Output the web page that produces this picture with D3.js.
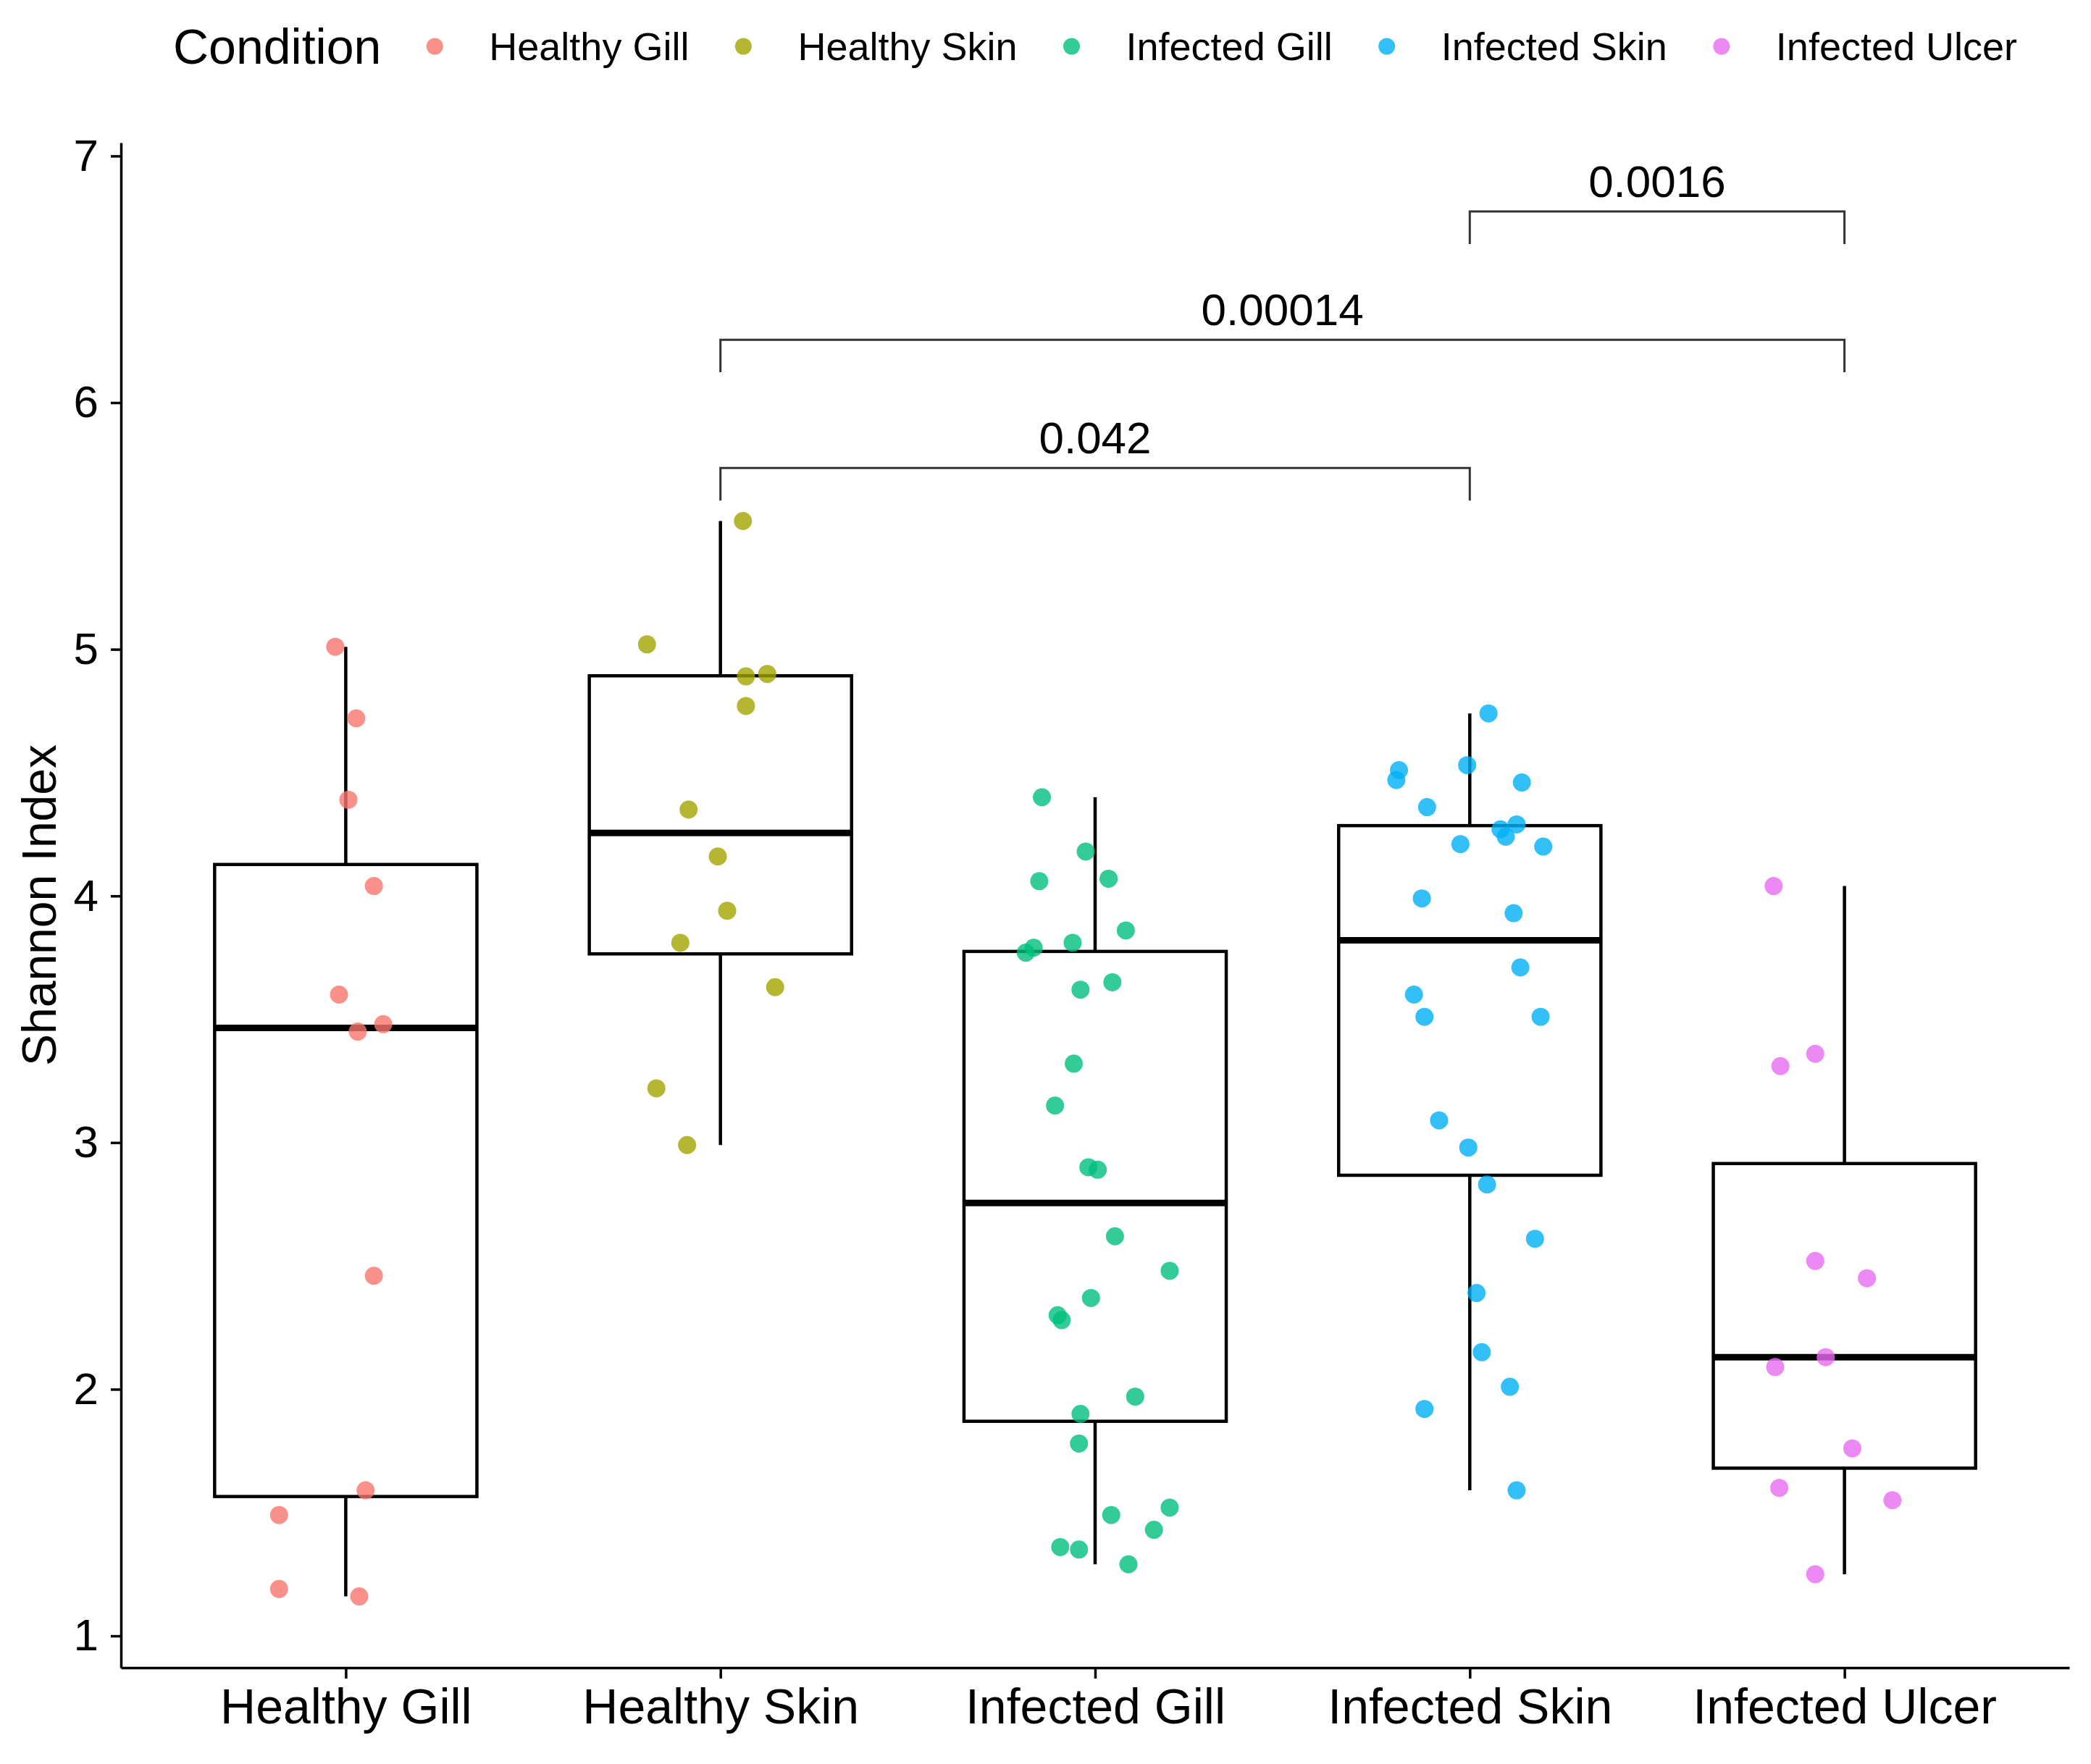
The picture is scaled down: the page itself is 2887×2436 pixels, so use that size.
<!DOCTYPE html>
<html lang="en">
<head>
    <meta charset="utf-8"/>
    <title>Shannon Index by Condition</title>
    <style>
        body { margin: 0; background: #fff; }
        svg { display: block; font-family: "Liberation Sans", Arial, Helvetica, sans-serif; }
        .axis path, .axis line { stroke: #000; stroke-width: 3.5px; }
        .axis text { fill: #000; }
        .box { fill: #fff; stroke: #000; stroke-width: 4.5px; }
        .whisker { stroke: #000; stroke-width: 4.5px; }
        .median { stroke: #000; stroke-width: 9px; }
        .bracket { fill: none; stroke: #333; stroke-width: 3px; }
    </style>
</head>
<body>
<div class="viz"></div>
<script src="https://cdnjs.cloudflare.com/ajax/libs/d3/7.8.5/d3.min.js"></script>
<script>
    // categories + colours (ggplot default hue palette)
    var categories = ["Healthy Gill", "Healthy Skin", "Infected Gill", "Infected Skin", "Infected Ulcer"];
    var colors = ["#F8766D", "#A3A500", "#00BF7D", "#00B0F6", "#E76BF3"];

    // Shannon index per sample
    var healthyGill = [5.01, 4.72, 4.39, 4.04, 3.60, 3.45, 3.48, 2.46, 1.59, 1.49, 1.19, 1.16];
    var healthySkin = [5.52, 5.02, 4.89, 4.90, 4.77, 4.35, 4.16, 3.94, 3.81, 3.63, 3.22, 2.99];
    var infectedGill = [4.40, 4.18, 4.06, 4.07, 3.86, 3.77, 3.79, 3.81, 3.62, 3.65, 3.32, 3.15, 2.90, 2.89,
                        2.62, 2.48, 2.37, 2.30, 2.28, 1.97, 1.90, 1.78, 1.52, 1.49, 1.43, 1.36, 1.35, 1.29];
    var infectedSkin = [4.74, 4.53, 4.51, 4.47, 4.46, 4.36, 4.29, 4.27, 4.24, 4.21, 4.20, 3.99, 3.93,
                        3.71, 3.60, 3.51, 3.51, 3.09, 2.98, 2.83, 2.61, 2.39, 2.15, 2.01, 1.92, 1.59];
    var infectedUlcer = [4.04, 3.36, 3.31, 2.52, 2.45, 2.13, 2.09, 1.76, 1.60, 1.55, 1.25];

    // horizontal jitter of each point, in category steps
    var healthyGillJitter = [-0.028, 0.028, 0.007, 0.075, -0.018, 0.032, 0.100, 0.075, 0.053, -0.178, -0.178, 0.036];
    var healthySkinJitter = [0.060, -0.196, 0.068, 0.125, 0.068, -0.085, -0.007, 0.018, -0.107, 0.146, -0.171, -0.089];
    var infectedGillJitter = [-0.142, -0.025, -0.149, 0.036, 0.082, -0.185, -0.164, -0.060, -0.039, 0.046, -0.057, -0.107, -0.018, 0.007,
                              0.053, 0.199, -0.011, -0.100, -0.089, 0.107, -0.039, -0.043, 0.199, 0.043, 0.157, -0.093, -0.043, 0.089];
    var infectedSkinJitter = [0.050, -0.007, -0.189, -0.196, 0.139, -0.114, 0.125, 0.082, 0.096, -0.025, 0.196, -0.128, 0.117,
                              0.135, -0.149, -0.121, 0.189, -0.082, -0.004, 0.046, 0.174, 0.018, 0.032, 0.107, -0.121, 0.125];
    var infectedUlcerJitter = [-0.189, -0.078, -0.171, -0.078, 0.060, -0.050, -0.185, 0.021, -0.174, 0.128, -0.078];

    var groupValues = [healthyGill, healthySkin, infectedGill, infectedSkin, infectedUlcer];
    var groupJitter = [healthyGillJitter, healthySkinJitter, infectedGillJitter, infectedSkinJitter, infectedUlcerJitter];

    var yTicks = [1, 2, 3, 4, 5, 6, 7];

    // significance brackets
    var bracketFrom = ["Healthy Skin", "Healthy Skin", "Infected Skin"];
    var bracketTo = ["Infected Skin", "Infected Ulcer", "Infected Ulcer"];
    var bracketY = [5.735, 6.255, 6.775];
    var bracketLabels = ["0.042", "0.00014", "0.0016"];
    var bracketTip = 0.132;

    var width = 2887, height = 2436;
    var margin = {top: 197, right: 30, bottom: 133, left: 167};

    var svg = d3.select('.viz').append('svg')
        .attr('width', width)
        .attr('height', height);

    var x = d3.scalePoint()
        .domain(categories)
        .range([margin.left, width - margin.right])
        .padding(0.6);

    var y = d3.scaleLinear()
        .domain([0.871, 7.054])
        .range([height - margin.bottom, margin.top]);

    var boxWidth = x.step() * 0.7;

    // boxes (quartiles like R's default type 7)
    var stats = groupValues.map(function(vals, i) {
        var s = vals.slice().sort(d3.ascending);
        var q1 = d3.quantile(s, 0.25), med = d3.quantile(s, 0.5), q3 = d3.quantile(s, 0.75);
        var iqr = q3 - q1;
        var lo = d3.min(s.filter(function(v) { return v >= q1 - 1.5 * iqr; }));
        var hi = d3.max(s.filter(function(v) { return v <= q3 + 1.5 * iqr; }));
        return {cat: categories[i], q1: q1, med: med, q3: q3, lo: lo, hi: hi};
    });

    var boxes = svg.append('g').attr('class', 'boxes')
        .selectAll('g')
        .data(stats)
        .enter().append('g');

    boxes.append('line').attr('class', 'whisker')
        .attr('x1', function(d) { return x(d.cat); })
        .attr('x2', function(d) { return x(d.cat); })
        .attr('y1', function(d) { return y(d.q3); })
        .attr('y2', function(d) { return y(d.hi); });

    boxes.append('line').attr('class', 'whisker')
        .attr('x1', function(d) { return x(d.cat); })
        .attr('x2', function(d) { return x(d.cat); })
        .attr('y1', function(d) { return y(d.q1); })
        .attr('y2', function(d) { return y(d.lo); });

    boxes.append('rect').attr('class', 'box')
        .attr('x', function(d) { return x(d.cat) - boxWidth / 2; })
        .attr('width', boxWidth)
        .attr('y', function(d) { return y(d.q3); })
        .attr('height', function(d) { return y(d.q1) - y(d.q3); });

    boxes.append('line').attr('class', 'median')
        .attr('x1', function(d) { return x(d.cat) - boxWidth / 2; })
        .attr('x2', function(d) { return x(d.cat) + boxWidth / 2; })
        .attr('y1', function(d) { return y(d.med); })
        .attr('y2', function(d) { return y(d.med); });

    // jittered points
    var points = [];
    groupValues.forEach(function(vals, i) {
        vals.forEach(function(v, j) {
            points.push({cat: categories[i], color: colors[i], value: v, jit: groupJitter[i][j]});
        });
    });

    svg.append('g').attr('class', 'points')
        .selectAll('circle')
        .data(points)
        .enter().append('circle')
        .attr('cx', function(d) { return x(d.cat) + d.jit * x.step(); })
        .attr('cy', function(d) { return y(d.value); })
        .attr('r', 12.5)
        .attr('fill', function(d) { return d.color; })
        .attr('fill-opacity', 0.8);

    // brackets
    var brackets = svg.append('g').attr('class', 'brackets')
        .selectAll('g')
        .data(bracketLabels)
        .enter().append('g');

    brackets.append('path').attr('class', 'bracket')
        .attr('d', function(d, i) {
            var x1 = x(bracketFrom[i]), x2 = x(bracketTo[i]);
            var yl = y(bracketY[i]), yt = y(bracketY[i] - bracketTip);
            return 'M' + x1 + ',' + yt + 'V' + yl + 'H' + x2 + 'V' + yt;
        });

    brackets.append('text')
        .attr('x', function(d, i) { return (x(bracketFrom[i]) + x(bracketTo[i])) / 2; })
        .attr('y', function(d, i) { return y(bracketY[i]) - 20; })
        .attr('text-anchor', 'middle')
        .style('font-size', '62px')
        .text(function(d) { return d; });

    // axes
    var yAxis = svg.append('g').attr('class', 'axis')
        .attr('transform', 'translate(' + margin.left + ',0)')
        .call(d3.axisLeft(y).tickValues(yTicks).tickFormat(d3.format('d'))
            .tickSize(14).tickSizeOuter(0).tickPadding(17));
    yAxis.selectAll('text').style('font-size', '62px');

    var xAxis = svg.append('g').attr('class', 'axis')
        .attr('transform', 'translate(0,' + (height - margin.bottom) + ')')
        .call(d3.axisBottom(x).tickSize(15).tickSizeOuter(0).tickPadding(14));
    xAxis.selectAll('text').style('font-size', '68px');

    svg.append('text')
        .attr('transform', 'translate(54,' + ((margin.top + height - margin.bottom) / 2) + ')rotate(-90)')
        .attr('text-anchor', 'middle')
        .attr('dy', '0.35em')
        .style('font-size', '66px')
        .text('Shannon Index');

    // legend, centred over the panel
    var legend = svg.append('g').attr('class', 'legend');
    var legendY = 64;
    var title = legend.append('text')
        .attr('y', legendY).attr('dy', '0.35em')
        .style('font-size', '68px')
        .text('Condition');
    var cursor = title.node().getComputedTextLength() + 74;
    categories.forEach(function(c, i) {
        legend.append('circle')
            .attr('cx', cursor).attr('cy', legendY)
            .attr('r', 11.5)
            .attr('fill', colors[i]).attr('fill-opacity', 0.8);
        var t = legend.append('text')
            .attr('x', cursor + 75).attr('y', legendY).attr('dy', '0.35em')
            .style('font-size', '54px')
            .text(c);
        cursor += 75 + t.node().getComputedTextLength() + 75;
    });
    var legendWidth = cursor - 75;
    var panelMid = (x.range()[0] + x.range()[1]) / 2;
    legend.attr('transform', 'translate(' + (panelMid - legendWidth / 2) + ',0)');
</script>
</body>
</html>
